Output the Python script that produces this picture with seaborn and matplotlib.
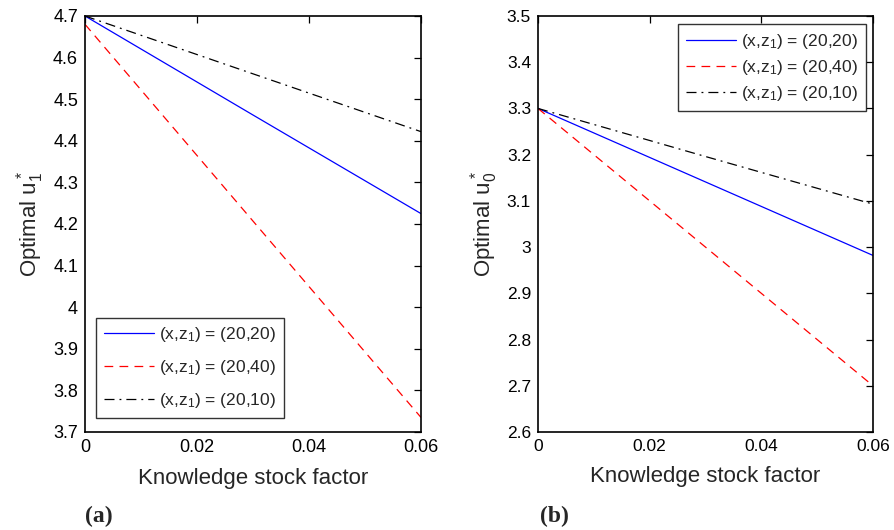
import numpy as np
import pandas as pd
import matplotlib
matplotlib.use("Agg")
import matplotlib.pyplot as plt
import seaborn as sns

# ---- data ----
x_vals = [0.0, 0.03, 0.06]
labels = [r"(x,z$_1$) = (20,20)", r"(x,z$_1$) = (20,40)", r"(x,z$_1$) = (20,10)"]

u1_z20 = [4.700, 4.462, 4.225]
u1_z40 = [4.680, 4.207, 3.735]
u1_z10 = [4.700, 4.561, 4.422]

u0_z20 = [3.300, 3.141, 2.982]
u0_z40 = [3.300, 3.000, 2.700]
u0_z10 = [3.300, 3.196, 3.093]

x_ticks = [0, 0.02, 0.04, 0.06]
x_ticklabels = ["0", "0.02", "0.04", "0.06"]
y1_ticks = [3.7, 3.8, 3.9, 4.0, 4.1, 4.2, 4.3, 4.4, 4.5, 4.6, 4.7]
y1_ticklabels = ["3.7", "3.8", "3.9", "4", "4.1", "4.2", "4.3", "4.4", "4.5", "4.6", "4.7"]
y0_ticks = [2.6, 2.7, 2.8, 2.9, 3.0, 3.1, 3.2, 3.3, 3.4, 3.5]
y0_ticklabels = ["2.6", "2.7", "2.8", "2.9", "3", "3.1", "3.2", "3.3", "3.4", "3.5"]

sns.set_style("white")
plt.rcParams["font.family"] = ["Liberation Sans", "DejaVu Sans"]
plt.rcParams["mathtext.fontset"] = "custom"
plt.rcParams["mathtext.rm"] = "Liberation Sans"
plt.rcParams["mathtext.it"] = "Liberation Sans"
plt.rcParams["mathtext.default"] = "regular"

fig = plt.figure(figsize=(8.94, 5.30), dpi=100)
W, H = 894, 530
axA = fig.add_axes([85 / W, (H - 432) / H, 336 / W, 416 / H])
axB = fig.add_axes([538 / W, (H - 432) / H, 335 / W, 416 / H])

styles = [("#0000ff", "-"), ("#ff0000", (0, (7, 5))), ("#000000", (0, (8, 4, 1.5, 4)))]


def draw(ax, series, yticks, yticklabels, ylim, ylabel, legend_loc, bbox, lspace, tick_fs):
    for vals, lab, (col, ls) in zip(series, labels, styles):
        sns.lineplot(x=x_vals, y=vals, ax=ax, color=col, linestyle=ls, linewidth=0.9, label=lab)
    ax.set_xlim(0, 0.06)
    ax.set_ylim(*ylim)
    ax.set_xticks(x_ticks)
    ax.set_xticklabels(x_ticklabels)
    ax.set_yticks(yticks)
    ax.set_yticklabels(yticklabels)
    ax.tick_params(direction="in", length=5, width=0.9, top=True, right=True,
                   labelsize=tick_fs, colors="black", pad=5)
    for s in ax.spines.values():
        s.set_visible(True)
        s.set_color("black")
        s.set_linewidth(1.2)
    ax.set_xlabel("Knowledge stock factor", fontsize=16, labelpad=9)
    ax.set_ylabel(ylabel, fontsize=16, labelpad=5)
    leg = ax.legend(loc=legend_loc, bbox_to_anchor=bbox, fontsize=12.5, frameon=True,
                    fancybox=False, edgecolor="black", handlelength=2.9,
                    borderpad=0.45, labelspacing=lspace, handletextpad=0.3, borderaxespad=0)
    leg.get_frame().set_linewidth(1.0)


draw(axA, [u1_z20, u1_z40, u1_z10], y1_ticks, y1_ticklabels, (3.7, 4.7),
     r"Optimal u$_1^*$", "lower left", (11 / 336, 14 / 416), 0.8, 13)
draw(axB, [u0_z20, u0_z40, u0_z10], y0_ticks, y0_ticklabels, (2.6, 3.5),
     r"Optimal u$_0^*$", "upper right", (1 - 7 / 335, 1 - 8 / 416), 0.4, 12.5)

fig.text(85 / W, 1 - 516 / H, "(a)", fontsize=17, fontweight="bold",
         family=["Liberation Serif"], va="center", ha="left")
fig.text(540 / W, 1 - 516 / H, "(b)", fontsize=17, fontweight="bold",
         family=["Liberation Serif"], va="center", ha="left")

fig.savefig("out.png", dpi=100)
